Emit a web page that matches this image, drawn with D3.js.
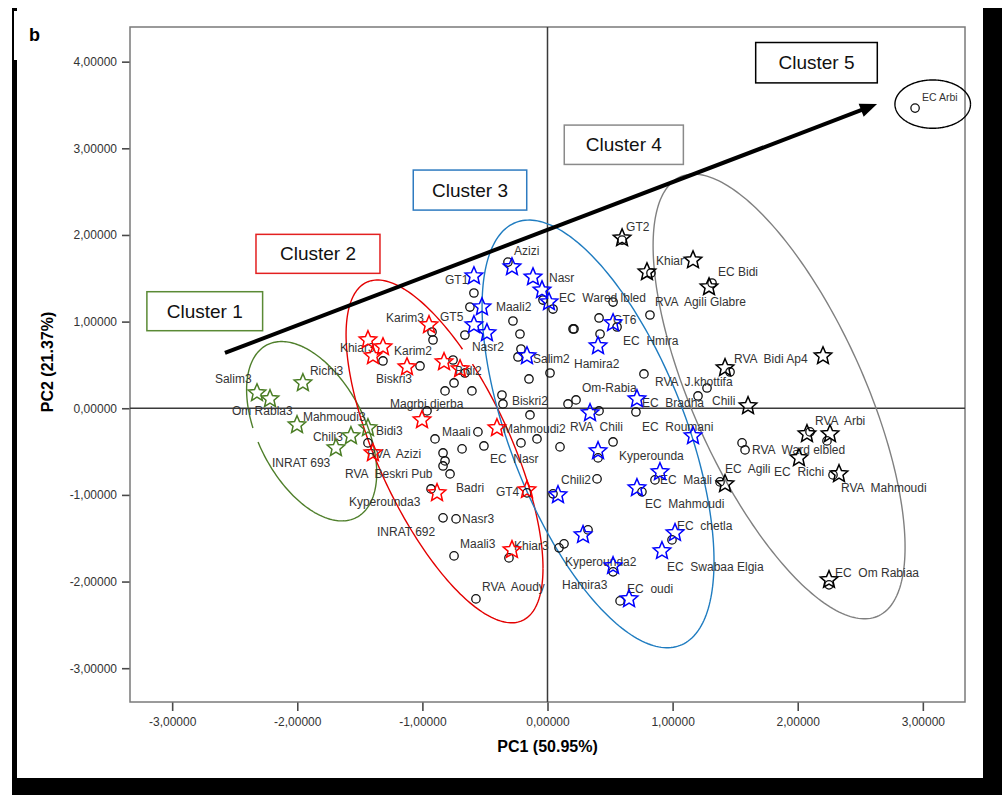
<!DOCTYPE html>
<html>
<head>
<meta charset="utf-8">
<script src="https://cdn.jsdelivr.net/npm/d3@7/dist/d3.min.js"></script>
<style>
  html, body { margin: 0; padding: 0; background: #fff; }
  svg { display: block; }
  text { font-family: "Liberation Sans", Arial, sans-serif; }
  .lbl { white-space: pre; }
</style>
</head>
<body>
<svg id="chart" width="1002" height="795"></svg>
<script>
// ---- axis ticks ----
const xTicks = [-3, -2, -1, 0, 1, 2, 3];
const yTicks = [-3, -2, -1, 0, 1, 2, 3, 4];

// ---- genotype scores (PC1, PC2) drawn as open circles ----
const genotypePoints = [
  [-0.588, 1.330], [-0.620, 1.168], [-0.660, 0.845], [-0.276, 1.007], [-0.220, 0.857],
  [-0.212, 0.684], [-0.236, 0.592], [-0.148, 0.338], [0.020, 0.407], [-0.316, 1.687],
  [-0.036, 1.249], [0.044, 1.145], [0.204, 0.915], [-0.923, 0.880], [-0.915, 0.788],
  [-1.315, 0.546], [-1.019, 0.488], [-0.755, 0.557], [-0.660, 0.407], [-0.747, 0.292],
  [-0.819, 0.200], [-0.604, 0.200], [-0.364, 0.153], [-0.356, 0.050], [-0.140, -0.077],
  [0.164, 0.050], [0.228, 0.096], [-0.963, -0.031], [-0.556, -0.273], [-0.899, -0.354],
  [-0.683, -0.469], [-0.508, -0.435], [-0.212, -0.400], [-0.084, -0.354], [0.100, -0.446],
  [-1.435, -0.400], [-0.835, -0.516], [-0.819, -0.608], [-0.835, -0.666], [-0.779, -0.758],
  [-0.931, -0.931], [-0.164, -0.977], [0.044, -0.988], [-0.835, -1.265], [-0.731, -1.277],
  [-0.747, -1.704], [-0.308, -1.727], [0.092, -1.611], [0.132, -1.565], [-0.572, -2.200],
  [0.596, 1.941], [0.827, 1.561], [1.315, 1.445], [0.524, 1.226], [0.819, 1.076],
  [0.412, 1.042], [0.556, 0.938], [0.212, 0.915], [0.420, 0.857], [0.771, 0.396],
  [1.459, 0.419], [1.275, 0.234], [1.203, 0.142], [0.707, -0.043], [0.412, -0.031],
  [0.524, -0.389], [0.404, -0.573], [0.396, -0.815], [0.859, -0.827], [0.755, -0.965],
  [1.379, -0.850], [1.555, -0.400], [1.579, -0.481], [2.098, -0.273], [2.234, -0.377],
  [2.282, -0.769], [0.995, -1.519], [0.324, -1.404], [0.524, -1.888], [0.580, -2.223],
  [2.250, -2.038], [2.938, 3.464]
];

// ---- star markers for each cluster (PC1, PC2) ----
const cluster1Stars = [
  [-2.322, 0.176], [-2.218, 0.107], [-1.955, 0.292], [-2.002, -0.193],
  [-1.571, -0.319], [-1.691, -0.458], [-1.435, -0.227]
];
const cluster2Stars = [
  [-1.435, 0.788], [-1.315, 0.707], [-1.395, 0.603], [-0.947, 0.961], [-1.123, 0.476],
  [-0.827, 0.534], [-0.699, 0.453], [-1.003, -0.135], [-0.404, -0.227], [-1.395, -0.516],
  [-0.883, -0.977], [-0.164, -0.942], [-0.284, -1.634]
];
const cluster3Stars = [
  [-0.588, 1.526], [-0.524, 1.168], [-0.588, 0.961], [-0.484, 0.869], [-0.284, 1.630],
  [-0.116, 1.514], [-0.044, 1.364], [0.012, 1.226], [-0.164, 0.603], [0.524, 0.984],
  [0.404, 0.719], [0.715, 0.107], [0.340, -0.054], [1.163, -0.319], [0.404, -0.492],
  [0.084, -1.000], [0.899, -0.735], [0.715, -0.919], [1.019, -1.438], [0.915, -1.646],
  [0.284, -1.461], [0.524, -1.819], [0.652, -2.200]
];
const cluster4Stars = [
  [0.596, 1.964], [0.795, 1.572], [1.163, 1.710], [1.291, 1.399], [1.419, 0.465],
  [2.202, 0.603], [1.603, 0.027], [2.074, -0.296], [2.258, -0.296], [2.010, -0.573],
  [2.330, -0.758], [1.419, -0.873], [2.250, -1.980]
];

// ---- genotype names, anchored at (PC1, PC2) ----
const pointLabels = [
  ["Salim3", -2.658, 0.292], ["Om Rabla3", -2.522, -0.077], ["Richi3", -1.899, 0.384],
  ["Mahmoudi3", -1.955, -0.146], ["Chili3", -1.875, -0.377], ["INRAT 693", -2.202, -0.677],
  ["Bidi3", -1.371, -0.308], ["GT1", -0.819, 1.434], ["Maali2", -0.412, 1.122],
  ["GT5", -0.859, 1.007], ["Nasr2", -0.604, 0.661], ["Salim2", -0.116, 0.522],
  ["Azizi", -0.268, 1.768], ["Nasr", 0.012, 1.457], ["EC  Wared lbled", 0.092, 1.226],
  ["Karim3", -1.291, 0.995], ["Khiar3", -1.659, 0.649], ["Karim2", -1.227, 0.615],
  ["Biskri3", -1.371, 0.292], ["Bidi2", -0.739, 0.384], ["Biskri2", -0.284, 0.038],
  ["Magrbi djerba", -1.259, 0.003], ["Mahmoudi2", -0.356, -0.285], ["Maali", -0.843, -0.319],
  ["RVA  Azizi", -1.443, -0.573], ["RVA  Beskri Pub", -1.619, -0.804], ["EC  Nasr", -0.460, -0.631],
  ["Badri", -0.731, -0.965], ["Kyperounda3", -1.587, -1.127], ["GT4", -0.412, -1.012],
  ["Chili2", 0.108, -0.873], ["Nasr3", -0.683, -1.323], ["INRAT 692", -1.363, -1.473],
  ["Maali3", -0.699, -1.611], ["Khiar3", -0.268, -1.634], ["RVA  Aoudy", -0.524, -2.107],
  ["Hamira3", 0.116, -2.084], ["GT2", 0.628, 2.045], ["Khiar", 0.867, 1.653],
  ["EC Bidi", 1.363, 1.526], ["RVA  Agili Glabre", 0.859, 1.180], ["GT6", 0.524, 0.972],
  ["EC  Hmira", 0.604, 0.730], ["Hamira2", 0.212, 0.465], ["RVA  J.khottifa", 0.859, 0.257],
  ["Om-Rabia", 0.276, 0.188], ["EC  Bradha", 0.755, 0.015], ["Chili", 1.315, 0.038],
  ["RVA  Chili", 0.180, -0.262], ["EC  Roumani", 0.755, -0.262], ["RVA  Bidi Ap4", 1.491, 0.522],
  ["RVA  Arbi", 2.138, -0.193], ["RVA  Ward elbled", 1.635, -0.527], ["EC  Agili", 1.419, -0.746],
  ["EC  Richi", 1.811, -0.781], ["RVA  Mahmoudi", 2.346, -0.965], ["EC  Om Rabiaa", 2.298, -1.946],
  ["Kyperounda", 0.572, -0.596], ["EC  Maali", 0.899, -0.873], ["EC  Mahmoudi", 0.779, -1.150],
  ["EC  chetla", 1.035, -1.404], ["Kyperounda2", 0.140, -1.819], ["EC  Swabaa Elgia", 0.955, -1.877],
  ["EC  oudi", 0.636, -2.130]
];
const isolatedLabel = ["EC Arbi", 2.994, 3.544];

// ---- cluster envelopes: centre, half-extents and correlation (PC units);
//      gap = short break in the outline near a given point ----
const clusterEllipses = [
  { id: 1, cx: -1.885, cy: -0.265, rx: 0.520, ry: 1.035, r: -0.463, gap: [-2.362, -0.330] },
  { id: 2, cx: -0.823, cy: -0.498, rx: 0.787, ry: 1.978, r: -0.681, gap: [-0.636, 0.573] },
  { id: 3, cx: 0.404, cy: -0.296, rx: 0.927, ry: 2.468, r: -0.596, gap: null },
  { id: 4, cx: 1.851, cy: 0.136, rx: 1.007, ry: 2.566, r: -0.678, gap: [1.978, 1.618] },
  { id: 5, cx: 3.079, cy: 3.510, rx: 0.302, ry: 0.279, r: 0, gap: null }
];

// ---- cluster captions: box corners (PC units) ----
const clusterBoxes = [
  { id: 1, text: "Cluster 1", x0: -3.202, y0: 1.345, x1: -2.277, y1: 0.895 },
  { id: 2, text: "Cluster 2", x0: -2.330, y0: 2.007, x1: -1.339, y1: 1.557 },
  { id: 3, text: "Cluster 3", x0: -1.073, y0: 2.749, x1: -0.166, y1: 2.287 },
  { id: 4, text: "Cluster 4", x0: 0.134, y0: 3.268, x1: 1.086, y1: 2.814 },
  { id: 5, text: "Cluster 5", x0: 1.664, y0: 4.221, x1: 2.636, y1: 3.755 }
];

// ---- trend arrow across the clusters ----
const trendArrow = [[-2.578, 0.638], [2.634, 3.510]];

// ---- styling ----
const starColors = { 1: "#4a7d24", 2: "#ff0000", 3: "#0000ff", 4: "#000000" };
const ellipseColors = { 1: "#4f7f2b", 2: "#e30000", 3: "#1f7cc0", 4: "#808080", 5: "#000000" };
const boxColors = { 1: "#5a8a35", 2: "#e32020", 3: "#2e7bc0", 4: "#8a8a8a", 5: "#000000" };

const svg = d3.select("#chart");

// page frame with a dark drop edge
svg.append("rect").attr("x", 12).attr("y", 8).attr("width", 990).attr("height", 787).attr("fill", "#000");
svg.append("rect").attr("x", 17).attr("y", 0).attr("width", 966).attr("height", 778).attr("fill", "#fff");
svg.append("rect").attr("x", 14).attr("y", 11).attr("width", 3).attr("height", 49).attr("fill", "#fff");

const plot = { left: 130, right: 965, top: 27, bottom: 702 };
const x = d3.scaleLinear().domain([-3.337, 3.337]).range([plot.left, plot.right]);
const y = d3.scaleLinear().domain([-3.39, 4.40]).range([plot.bottom, plot.top]);

const fmt = v => d3.format(".5f")(v).replace(".", ",").replace("−", "-");

// panel letter
svg.append("text").attr("x", 29).attr("y", 41).attr("font-size", 18).attr("font-weight", "bold").text("b");

// axes
const xAxis = svg.append("g").attr("transform", `translate(0,${plot.bottom})`)
  .call(d3.axisBottom(x).tickValues(xTicks).tickSize(9).tickPadding(6).tickFormat(fmt));
const yAxis = svg.append("g").attr("transform", `translate(${plot.left},0)`)
  .call(d3.axisLeft(y).tickValues(yTicks).tickSize(8).tickPadding(5).tickFormat(fmt));
[xAxis, yAxis].forEach(g => {
  g.select(".domain").remove();
  g.selectAll(".tick line").attr("stroke", "#4a4a4a").attr("stroke-width", 1.6);
  g.selectAll(".tick text").attr("font-size", 12).attr("fill", "#333")
    .attr("font-family", "'Liberation Sans', Arial, sans-serif");
});

// plot frame
svg.append("rect").attr("x", plot.left).attr("y", plot.top)
  .attr("width", plot.right - plot.left).attr("height", plot.bottom - plot.top)
  .attr("fill", "none").attr("stroke", "#7a7a7a").attr("stroke-width", 1.5);

// zero reference lines
svg.append("line").attr("x1", x(0)).attr("x2", x(0)).attr("y1", plot.top).attr("y2", plot.bottom)
  .attr("stroke", "#3a3a3a").attr("stroke-width", 1.5);
svg.append("line").attr("x1", plot.left).attr("x2", plot.right).attr("y1", y(0)).attr("y2", y(0))
  .attr("stroke", "#3a3a3a").attr("stroke-width", 1.5);

// axis titles
svg.append("text").attr("x", x(0)).attr("y", 752).attr("text-anchor", "middle")
  .attr("font-size", 16).attr("font-weight", "bold").text("PC1 (50.95%)");
svg.append("text").attr("transform", `translate(53,${362}) rotate(-90)`).attr("text-anchor", "middle")
  .attr("font-size", 16).attr("font-weight", "bold").text("PC2 (21.37%)");

// cluster envelopes (sampled outline, with an optional short break)
const ellipseLine = d3.line().defined(d => d.on).x(d => d.px).y(d => d.py);
const ellipsePoints = e => {
  const gx = e.gap ? x(e.gap[0]) : null, gy = e.gap ? y(e.gap[1]) : null;
  return d3.range(0, 241).map(i => {
    const t = i * 2 * Math.PI / 240;
    const vx = e.cx + e.rx * Math.cos(t);
    const vy = e.cy + e.ry * (e.r * Math.cos(t) + Math.sqrt(1 - e.r * e.r) * Math.sin(t));
    const px = x(vx), py = y(vy);
    const on = !e.gap || Math.hypot(px - gx, py - gy) > 7;
    return { px, py, on };
  });
};
svg.append("g").selectAll("path").data(clusterEllipses).join("path")
  .attr("d", e => ellipseLine(ellipsePoints(e)))
  .attr("fill", "none").attr("stroke", e => ellipseColors[e.id]).attr("stroke-width", 1.4);

// open circles
svg.append("g").selectAll("circle").data(genotypePoints).join("circle")
  .attr("cx", d => x(d[0])).attr("cy", d => y(d[1])).attr("r", 4.2)
  .attr("fill", "none").attr("stroke", "#111").attr("stroke-width", 1.3);

// labels
svg.append("g").selectAll("text").data(pointLabels).join("text")
  .attr("class", "lbl").attr("x", d => x(d[1])).attr("y", d => y(d[2]))
  .attr("font-size", 12).attr("fill", "#333").text(d => d[0]);
svg.append("text").attr("x", x(isolatedLabel[1])).attr("y", y(isolatedLabel[2]))
  .attr("font-size", 10.5).attr("fill", "#333").text(isolatedLabel[0]);

// star markers
const starPath = (R, ri) => {
  const pts = [];
  for (let i = 0; i < 10; i++) {
    const a = -Math.PI / 2 + i * Math.PI / 5;
    const rad = i % 2 === 0 ? R : ri;
    pts.push([rad * Math.cos(a), rad * Math.sin(a)]);
  }
  return "M" + pts.map(p => p[0].toFixed(2) + "," + p[1].toFixed(2)).join("L") + "Z";
};
const star = starPath(9.2, 4.2);
[[1, cluster1Stars], [2, cluster2Stars], [3, cluster3Stars], [4, cluster4Stars]].forEach(([id, pts]) => {
  svg.append("g").selectAll("path").data(pts).join("path")
    .attr("d", star).attr("transform", d => `translate(${x(d[0])},${y(d[1])})`)
    .attr("fill", "none").attr("stroke", starColors[id]).attr("stroke-width", 1.5)
    .attr("stroke-linejoin", "miter");
});

// trend arrow
{
  const [p0, p1] = trendArrow.map(d => [x(d[0]), y(d[1])]);
  const dx = p1[0] - p0[0], dy = p1[1] - p0[1], len = Math.hypot(dx, dy);
  const ux = dx / len, uy = dy / len, nx = -uy, ny = ux;
  const headLen = 17, headHalf = 7;
  const base = [p1[0] - ux * headLen, p1[1] - uy * headLen];
  svg.append("line").attr("x1", p0[0]).attr("y1", p0[1]).attr("x2", base[0] + ux * 2).attr("y2", base[1] + uy * 2)
    .attr("stroke", "#000").attr("stroke-width", 4);
  svg.append("path").attr("d",
    `M${p1[0]},${p1[1]}L${base[0] + nx * headHalf},${base[1] + ny * headHalf}L${base[0] - nx * headHalf},${base[1] - ny * headHalf}Z`)
    .attr("fill", "#000");
}

// cluster caption boxes
const boxes = svg.append("g").selectAll("g").data(clusterBoxes).join("g");
boxes.append("rect")
  .attr("x", d => x(d.x0)).attr("y", d => y(d.y0))
  .attr("width", d => x(d.x1) - x(d.x0)).attr("height", d => y(d.y1) - y(d.y0))
  .attr("fill", "#fff").attr("stroke", d => boxColors[d.id]).attr("stroke-width", 1.5);
boxes.append("text")
  .attr("x", d => (x(d.x0) + x(d.x1)) / 2).attr("y", d => (y(d.y0) + y(d.y1)) / 2 + 6.5)
  .attr("text-anchor", "middle").attr("font-size", 19).attr("fill", "#111")
  .attr("font-family", "Carlito, 'Open Sans', 'Liberation Sans', sans-serif")
  .text(d => d.text);
</script>
</body>
</html>
